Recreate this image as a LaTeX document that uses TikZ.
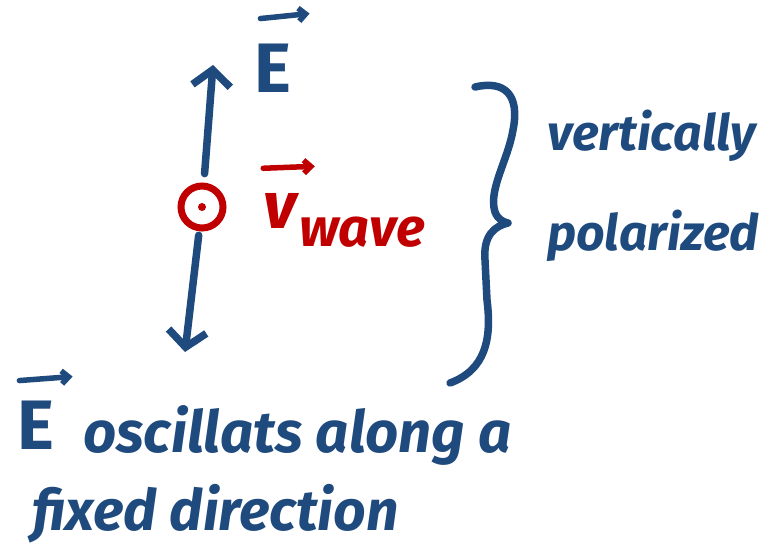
\documentclass[tikz,border=0pt]{standalone}
\usepackage{fontspec}
\setmainfont{Fira Sans}
\usetikzlibrary{arrows.meta,positioning,calc}
\definecolor{blau}{HTML}{1F4A7E}
\definecolor{rot}{HTML}{C00000}
\tikzset{
  pfeil/.style={-{Straight Barb[length=16pt,width=38pt]},blau,line width=7.5pt,line cap=round},
  vecstrich/.style={-{Straight Barb[length=7pt,width=13pt]},line width=5.5pt,line cap=round},
  schrift/.style={blau,inner sep=0pt,font=\fontsize{50}{60}\selectfont\bfseries\itshape},
  gross/.style={blau,inner sep=0pt,font=\fontsize{70}{80}\selectfont\bfseries},
  rschrift/.style={rot,inner sep=0pt,font=\fontsize{54}{60}\selectfont\bfseries\itshape},
  klammer/.style={blau,line width=7.5pt,line cap=round,line join=round},
  punktkreis/.style={circle,draw=rot,line width=7pt,minimum size=42pt,inner sep=0pt},
}
\begin{document}
\begin{tikzpicture}[x=1pt,y=-1pt]
  \useasboundingbox (0,0) rectangle (773,550);
  % ===== Kreis mit Punkt und Feldpfeile nach oben/unten =====
  \node[punktkreis] (kreis) at (202,207) {};
  \fill[rot] (kreis.center) circle (4);
  \coordinate (ospitze) at (213,65);
  \coordinate (uspitze) at (185,352);
  \draw[pfeil,shorten <=9pt] (kreis) -- (ospitze);
  \draw[pfeil,shorten <=4pt] (kreis) -- (uspitze);
  % ===== E oben =====
  \node[gross] (eoben) at (273,68) {E};
  \draw[blau,vecstrich] ($(eoben.north west)+(6,-25)$) -- ($(eoben.north east)+(18,-30)$);
  % ===== v_wave in rot =====
  \node[rschrift,font=\fontsize{66}{70}\selectfont\bfseries\itshape] (v) at (280,211) {v};
  \node[rschrift,anchor=base west] (wave) at ($(v.base east)+(2,18)$) {wave};
  \draw[rot,vecstrich] ($(v.north west)+(0,-25)$) -- ($(v.north east)+(18,-27)$);
  % ===== geschweifte Klammer =====
  \coordinate (koben) at (475,87);
  \coordinate (kspitze) at (508,223);
  \coordinate (kunten) at (450,383);
  \draw[klammer] (koben) .. controls (505,80) and (520,95) .. (513,130)
    .. controls (508,160) and (488,190) .. (495,212)
    .. controls (498,220) and (504,222) .. (kspitze)
    .. controls (495,226) and (483,235) .. (485,260) -- (487,300)
    .. controls (492,340) and (485,370) .. (kunten);
  \node[schrift,anchor=base west] (vert) at (547,150) {vertically};
  \node[schrift,anchor=base west] (pol) at (547,250) {polarized};
  % ===== Text unten =====
  \node[gross] (eunten) at (36,425) {E};
  \draw[blau,vecstrich] ($(eunten.north west)+(2,-20)$) -- ($(eunten.north east)+(18,-24)$);
  \node[schrift,anchor=base west,font=\fontsize{58}{60}\selectfont\bfseries\itshape] (zeile1) at (83,452) {oscillats along a};
  \node[schrift,anchor=base west,font=\fontsize{57}{60}\selectfont\bfseries\itshape] (zeile2) at (32,530) {fixed direction};
\end{tikzpicture}
\end{document}
